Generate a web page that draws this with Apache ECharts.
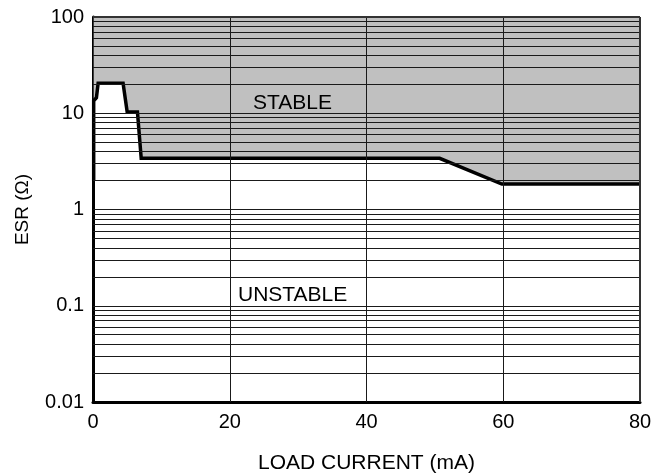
<!DOCTYPE html>
<html><head><meta charset="utf-8">
<script src="https://cdn.jsdelivr.net/npm/echarts@6/dist/echarts.min.js"></script>
<style>html,body{margin:0;padding:0;background:#fff}#c{width:666px;height:476px}</style>
</head><body><div id="c"></div>
<script>
// Load current (mA) and ESR boundary (ohm)
const loadCurrent = [0.1, 0.1, 0.5, 0.75, 4.4, 5.0, 6.5, 7.05, 50.7, 59.8, 80];
const esrBoundary = [2.0, 13.5, 14.5, 20.5, 20.5, 10.3, 10.3, 3.4, 3.4, 1.84, 1.84];
const xTicks = [0, 20, 40, 60, 80];
const xGrid = [20, 40, 60];
const esrGrid = [0.02,0.03,0.04,0.05,0.06,0.07,0.08,0.09,0.1,
                 0.2,0.3,0.4,0.5,0.6,0.7,0.8,0.9,1,
                 2,3,4,5,6,7,8,9,10,
                 20,30,40,50,60,70,80,90];
const regionLabels = ['STABLE', 'UNSTABLE'];

const FONT = 'Liberation Sans, Arial, sans-serif';
const curve = loadCurrent.map((x, i) => [x, esrBoundary[i]]);

const chart = echarts.init(document.getElementById('c'));
chart.setOption({
  animation: false,
  grid: { left: 93, right: 26, top: 17, bottom: 74, containLabel: false, outerBoundsMode: 'none' },
  xAxis: {
    type: 'value', min: xTicks[0], max: xTicks[xTicks.length - 1], interval: 20,
    name: 'LOAD CURRENT (mA)', nameLocation: 'middle', nameGap: 51,
    nameTextStyle: { fontFamily: FONT, fontSize: 21, color: '#000' },
    axisLine: { lineStyle: { color: '#000', width: 3 } },
    axisTick: { show: false },
    splitLine: { show: false },
    axisLabel: { fontFamily: FONT, fontSize: 20, color: '#000', margin: 10 }
  },
  yAxis: {
    type: 'log', logBase: 10, min: 0.01, max: 100,
    name: 'ESR (Ω)', nameLocation: 'middle', nameGap: 61, nameRotate: 90,
    nameTextStyle: { fontFamily: FONT, fontSize: 19, color: '#000' },
    axisLine: { show: true, lineStyle: { color: '#000', width: 3 } },
    axisTick: { show: false },
    splitLine: { show: false },
    axisLabel: { fontFamily: FONT, fontSize: 20, color: '#000', margin: 9,
      formatter: v => String(+v.toPrecision(3)) }
  },
  series: [
    {
      type: 'line', data: curve, symbol: 'none', z: 1,
      lineStyle: { width: 0 },
      areaStyle: { origin: 'end', color: '#c0c0c0', opacity: 1 }
    },
    {
      type: 'line', data: [], z: 2, silent: true,
      markLine: {
        silent: true, symbol: 'none', label: { show: false },
        lineStyle: { color: '#1a1a1a', width: 1, type: 'solid' },
        data: esrGrid.map(v => ({ yAxis: v }))
          .concat(xGrid.map(v => ({ xAxis: v })))
          .concat([{ yAxis: 100, lineStyle: { color: '#333', width: 2 } },
                   { xAxis: 80, lineStyle: { color: '#333', width: 2 } }])
      }
    },
    {
      type: 'line', data: curve, symbol: 'none', z: 3,
      lineStyle: { color: '#000', width: 3.5, join: 'miter' }
    }
  ],
  graphic: [
    { type: 'text', left: 253, top: 93, z: 10,
      style: { text: regionLabels[0], font: '21px ' + FONT, fill: '#000' } },
    { type: 'text', left: 238, top: 285, z: 10,
      style: { text: regionLabels[1], font: '21px ' + FONT, fill: '#000' } }
  ]
});
</script></body></html>
